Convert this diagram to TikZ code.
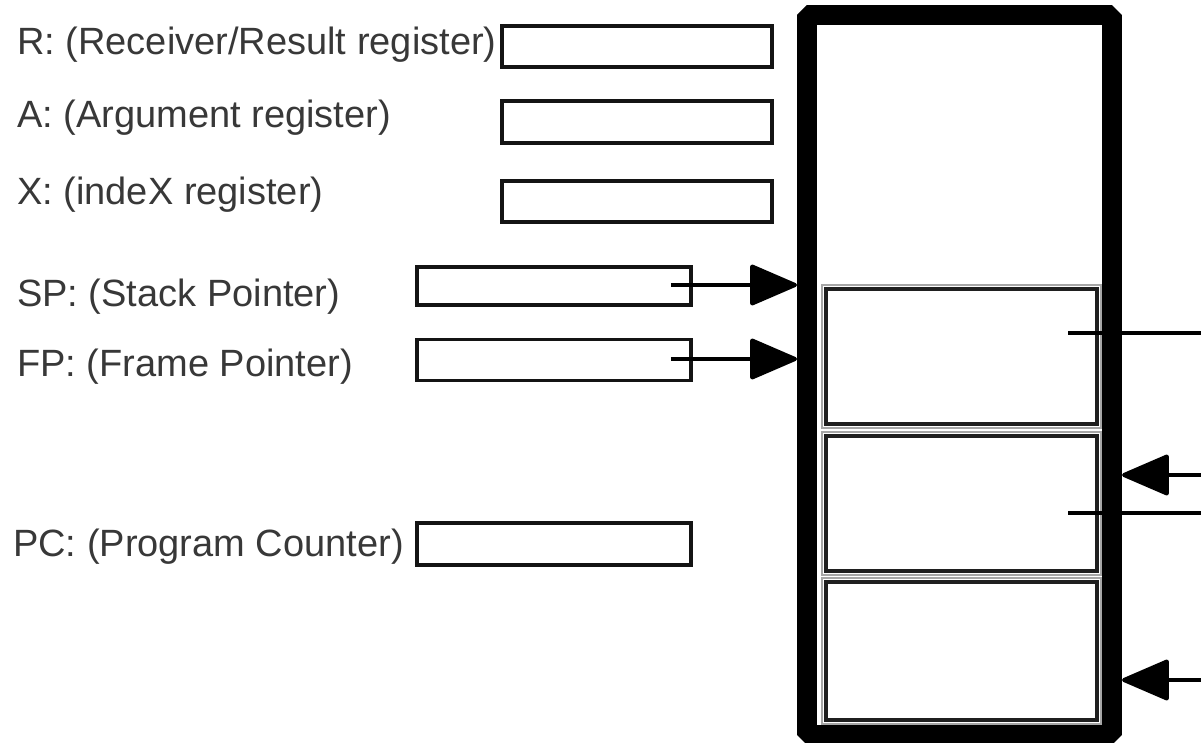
\documentclass[tikz,border=0pt]{standalone}
\usepackage{fontspec}
\setmainfont{Liberation Sans}
\usetikzlibrary{arrows.meta,calc}

\begin{document}
\begin{tikzpicture}[x=1pt,y=-1pt,
  lbl/.style={anchor=base west,inner sep=0pt,text=black!78,
              font=\fontsize{38}{45}\selectfont},
  regbox/.style={draw=black!92,line width=3.6pt,minimum width=270pt,
                 inner sep=0pt,fill=white},
  stackframe/.style={draw=black,line width=20pt,line join=bevel,
                     minimum width=305pt,minimum height=720pt,inner sep=0pt},
  cell/.style={draw=black!88,line width=3.2pt,minimum width=271pt,
               inner sep=0pt},
  cellrim/.style={draw=black!35,line width=1.4pt},
  ptr/.style={line width=4pt,draw=black,
              -{Triangle[length=50pt,width=42pt,round]}},
  wire/.style={line width=4pt,draw=black}
]
\useasboundingbox (0,0) rectangle (1201,743);
\clip (0,0) rectangle (1201,743);

% register labels
\node[lbl] (tR)  at (17,55)  {R: (Receiver/Result register)};
\node[lbl] (tA)  at (17,128) {A: (Argument register)};
\node[lbl] (tX)  at (17,205) {X: (indeX register)};
\node[lbl] (tSP) at (17,306) {SP: (Stack Pointer)};
\node[lbl] (tFP) at (17,376) {FP: (Frame Pointer)};
\node[lbl] (tPC) at (13,556) {PC: (Program Counter)};

% register boxes
\node[regbox,minimum height=41pt] (R)  at (637,46.5) {};
\node[regbox,minimum height=42pt] (A)  at (637,122)  {};
\node[regbox,minimum height=41pt] (X)  at (637,201.5) {};
\node[regbox,minimum width=274pt,minimum height=38pt] (SP) at (554,286) {};
\node[regbox,minimum width=274pt,minimum height=41pt] (FP) at (554,360) {};
\node[regbox,minimum width=274pt,minimum height=42pt] (PC) at (554,544) {};

% the stack
\node[stackframe] (stack) at (959.5,375) {};

% stack frames
\node[cell,minimum height=135pt] (c1) at (961.5,356.5) {};
\node[cell,minimum height=135pt] (c2) at (961.5,503.5) {};
\node[cell,minimum height=138pt] (c3) at (961.5,651)   {};
\foreach \c in {c1,c2,c3}
  \draw[cellrim] ($(\c.north west)+(-2.5,-2.5)$) rectangle ($(\c.south east)+(2.5,2.5)$);

% SP and FP point into the stack
\coordinate (spfrom) at ($(SP.east)+(-22,-1)$);
\coordinate (fpfrom) at ($(FP.east)+(-22,-1)$);
\draw[ptr] (spfrom) -- (spfrom -| stack.west);
\draw[ptr] (fpfrom) -- (fpfrom -| stack.west);

% links leaving the frames on the right
\coordinate (l1) at (1068,333);
\coordinate (r1) at (1201,333);
\coordinate (l2) at (1068,513);
\coordinate (r2) at (1201,513);
\draw[wire] (l1) -- (r1);
\draw[wire] (l2) -- (r2);

% links arriving at the frames from the right
\coordinate (in2) at (1201,475);
\coordinate (in3) at (1201,680);
\draw[ptr] (in2) -- (in2 -| stack.east);
\draw[ptr] (in3) -- (in3 -| stack.east);
\end{tikzpicture}
\end{document}
